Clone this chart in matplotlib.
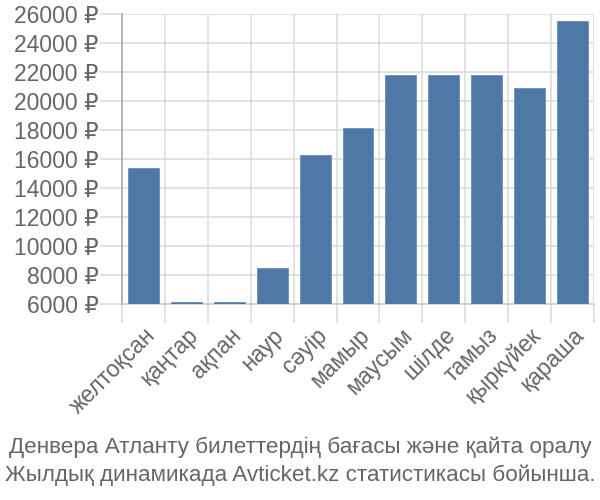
import matplotlib.pyplot as plt
import numpy as np

plt.rcParams['font.family'] = ['Liberation Sans', 'DejaVu Sans']

months = ["желтоқсан", "қаңтар", "ақпан", "наур", "сәуір", "мамыр",
          "маусым", "шілде", "тамыз", "қыркүйек", "қараша"]
prices = [15400, 6150, 6150, 8480, 16280, 18140, 21800, 21800, 21800, 20900, 25500]
yticks = np.arange(6000, 26001, 2000)

text_col = "#666666"
grid_col = "#dddddd"

fig = plt.figure(figsize=(6, 5), dpi=100)
ax = fig.add_axes([122/600, 1-304/500, 472/600, 290/500])

x = np.arange(len(months))
ax.bar(x, prices, width=0.72, color="#4e79a7", edgecolor="#6a8fb8", linewidth=0.6, zorder=3)

ax.set_xlim(-0.5, len(months) - 0.5)
ax.set_ylim(6000, 26000)

ax.set_yticks(yticks)
ax.set_yticklabels([f"{v} ₽" for v in yticks], color=text_col, fontsize=16.5)
ax.tick_params(axis="y", length=16, color=grid_col, width=1.2, pad=1)
ax.grid(axis="y", color=grid_col, linewidth=1.2, zorder=0)

ax.set_xticks(x)
ax.set_xticklabels(months, rotation=45, ha="right", rotation_mode="anchor",
                   color=text_col, fontsize=16.5)
ax.tick_params(axis="x", length=0, pad=14)
ax.set_xticks(np.arange(-0.5, len(months)), minor=True)
ax.tick_params(axis="x", which="minor", length=14, color=grid_col, width=1.2)
ax.grid(axis="x", which="minor", color=grid_col, linewidth=1.2, zorder=0)

for s in ["top", "right"]:
    ax.spines[s].set_visible(False)
ax.spines["left"].set_color("#aaaaaa")
ax.spines["bottom"].set_color("#cccccc")
ax.spines["left"].set_linewidth(1.2)
ax.spines["bottom"].set_linewidth(1.2)

fig.text(0.5, 1-447/500, "Денвера Атланту билеттердің бағасы және қайта оралу",
         ha="center", va="center", color=text_col, fontsize=16.2)
fig.text(0.5, 1-475/500, "Жылдық динамикада Avticket.kz статистикасы бойынша.",
         ha="center", va="center", color=text_col, fontsize=16.2)

fig.savefig("out.png", dpi=100)
